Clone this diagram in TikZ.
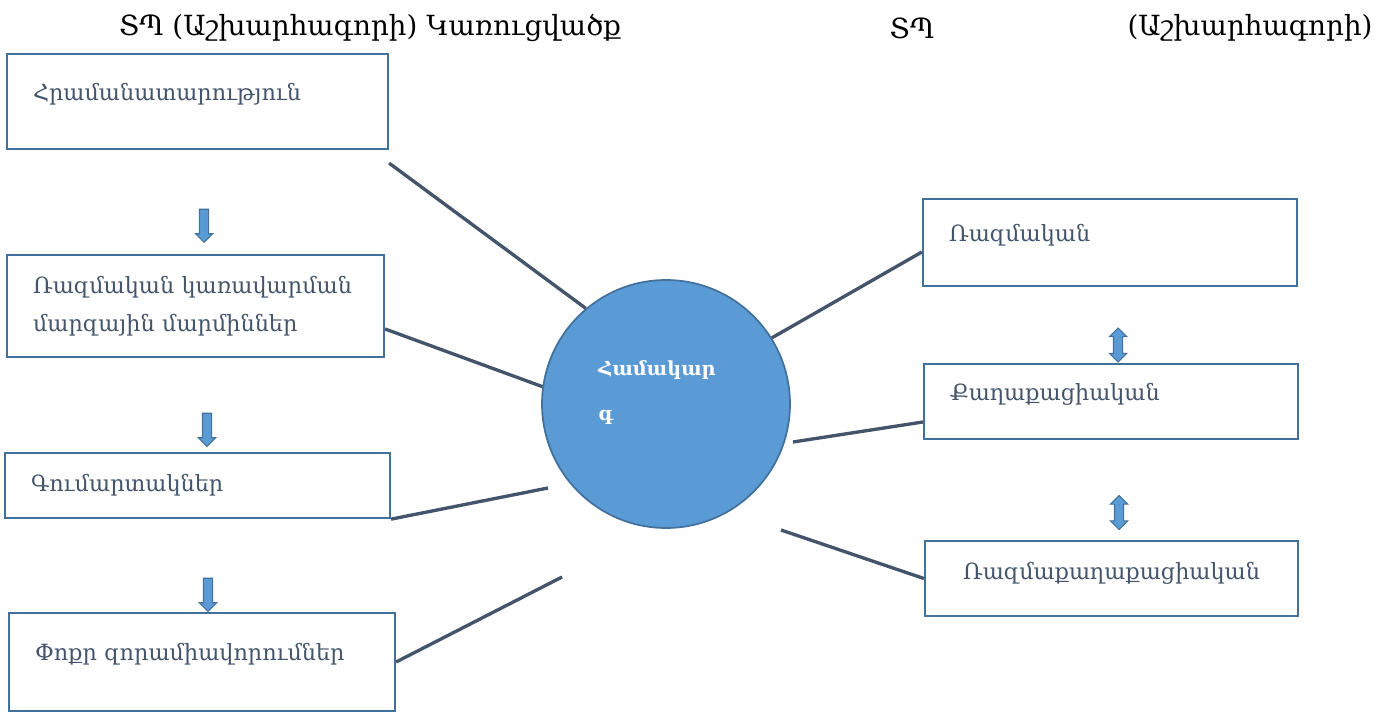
\documentclass[tikz,border=0pt]{standalone}
\usepackage{fontspec}
\setmainfont{DejaVu Serif}
\usetikzlibrary{shapes.arrows}
\definecolor{boxline}{HTML}{41719C}
\definecolor{hubfill}{HTML}{5B9BD5}
\definecolor{linkcol}{HTML}{44546A}
\begin{document}
\begin{tikzpicture}[
    x=0.02cm, y=-0.02cm,
    box/.style={rectangle, draw=boxline, line width=1.3pt, fill=white, align=left,
      inner xsep=0.52cm, text=linkcol, font=\fontsize{12.7}{21.5}\selectfont},
    raised/.style={text depth=0.4cm},
    title/.style={font=\fontsize{15.8}{18}\selectfont, inner sep=0pt},
    link/.style={draw=linkcol, line width=1.9pt},
    downarrow/.style={single arrow, draw=boxline, fill=hubfill, rotate=-90, line width=0.6pt,
      minimum height=0.66cm, inner sep=0.08cm, single arrow head extend=0.08cm,
      single arrow head indent=0pt},
    bothways/.style={double arrow, draw=boxline, fill=hubfill, rotate=90, line width=0.6pt,
      minimum height=0.68cm, inner sep=0.08cm, double arrow head extend=0.08cm,
      double arrow head indent=0pt}
]
  \useasboundingbox (0,0) rectangle (1385,712);

  % titles
  \node[title] (t1) at (370,28) {ՏՊ (Աշխարհագորի) Կառուցվածք};
  \node[title] (t2) at (912,28) {ՏՊ};
  \node[title] (t3) at (1250,28) {(Աշխարհագորի)};

  % left column
  \node[box, raised, minimum width=7.62cm, minimum height=1.9cm, text width=6.58cm] (cmd) at (197.5,101.5) {Հրամանատարություն};
  \node[box, minimum width=7.54cm, minimum height=2.04cm, text width=6.5cm] (reg) at (195.5,306) {Ռազմական կառավարման\\մարզային մարմիններ};
  \node[box, minimum width=7.7cm, minimum height=1.3cm, text width=6.66cm] (bat) at (197.5,485.5) {Գումարտակներ};
  \node[box, raised, minimum width=7.72cm, minimum height=1.96cm, text width=6.68cm] (sml) at (202,662) {Փոքր զորամիավորումներ};

  \node[downarrow] (d1) at (204,223.5) {};
  \node[downarrow] (d2) at (207,427.5) {};
  \node[downarrow] (d3) at (208,592.5) {};

  % right column
  \node[box, raised, minimum width=7.48cm, minimum height=1.74cm, text width=6.44cm] (mil) at (1110,242.5) {Ռազմական};
  \node[box, raised, minimum width=7.48cm, minimum height=1.5cm, text width=6.44cm] (civ) at (1111,401.5) {Քաղաքացիական};
  \node[box, text depth=0.3cm, minimum width=7.46cm, minimum height=1.5cm, text width=6.42cm, align=center] (mix) at (1111.5,578.5) {Ռազմաքաղաքացիական};

  \node[bothways] (b1) at (1118,345) {};
  \node[bothways] (b2) at (1119,512.5) {};

  % hub
  \node[circle, draw=boxline, fill=hubfill, line width=1pt, minimum size=4.96cm] (hub) at (666,404) {};
  \node[anchor=north west, inner sep=0pt, align=left, text=white,
    font=\fontsize{11}{25.5}\selectfont\bfseries] (hubtext) at (598,360) {Համակար\\գ};

  % edges
  \coordinate (e3) at (548,488);
  \coordinate (e4) at (562,577);
  \coordinate (e6) at (793,442);
  \coordinate (e7) at (781,530);
  \draw[link] ([yshift=-0.26cm]cmd.south east) -- (hub.130);
  \draw[link] ([yshift=-0.46cm]reg.east) -- (hub.172);
  \draw[link] (bat.south east) -- (e3);
  \draw[link] (sml.east) -- (e4);
  \draw[link] (hub.32) -- ([yshift=-0.19cm]mil.west);
  \draw[link] (e6) -- ([yshift=-0.41cm]civ.west);
  \draw[link] (e7) -- (mix.west);
\end{tikzpicture}
\end{document}
